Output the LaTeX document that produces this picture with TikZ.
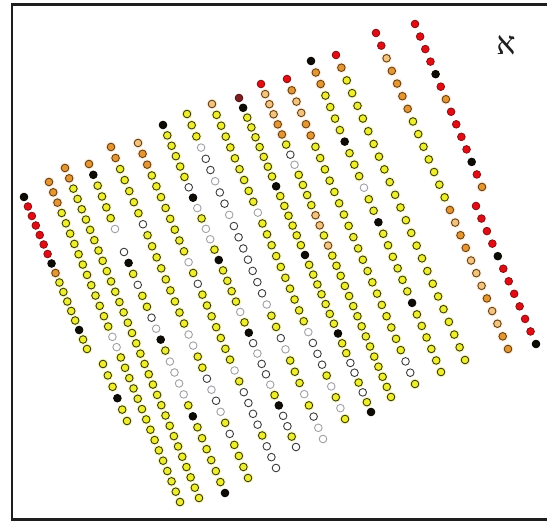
\documentclass[tikz,border=0pt]{standalone}
\usepackage{fontspec}
\TeXXeTstate=1
\newfontfamily\hebfont[Script=Hebrew]{Liberation Serif}
\usetikzlibrary{calc}
\definecolor{fR}{RGB}{226,12,20}\definecolor{lR}{RGB}{140,20,20}\definecolor{hR}{RGB}{255,255,255}
\definecolor{fO}{RGB}{228,150,50}\definecolor{lO}{RGB}{105,65,20}\definecolor{hO}{RGB}{252,240,225}
\definecolor{fT}{RGB}{242,196,128}\definecolor{lT}{RGB}{100,62,20}\definecolor{hT}{RGB}{252,242,228}
\definecolor{fY}{RGB}{238,238,45}\definecolor{lY}{RGB}{60,60,18}\definecolor{hY}{RGB}{250,250,200}
\definecolor{fW}{RGB}{255,255,255}\definecolor{lW}{RGB}{60,60,60}\definecolor{hW}{RGB}{255,255,255}
\definecolor{fG}{RGB}{255,255,255}\definecolor{lG}{RGB}{160,160,166}\definecolor{hG}{RGB}{255,255,255}
\definecolor{fK}{RGB}{15,12,5}\definecolor{lK}{RGB}{10,8,4}\definecolor{hK}{RGB}{255,255,255}
\definecolor{fM}{RGB}{125,32,36}\definecolor{lM}{RGB}{90,20,24}\definecolor{hM}{RGB}{255,255,255}
\definecolor{framecol}{RGB}{30,30,30}
\tikzset{dotbase/.style={line width=0.9pt}}
\newcommand\dotrow[3]{%
  \xdef\dcn{0}%
  \foreach \c in {#3}{\xdef\dcn{\the\numexpr\dcn+1\relax}}%
  \foreach \c [count=\i from 0] in {#3}{%
    \path[fill=h\c] ($(#1)!{\i/(\dcn-1)}!(#2)$) circle[radius=5.6pt];
  }%
  \foreach \c [count=\i from 0] in {#3}{%
    \path[dotbase,fill=f\c,draw=l\c] ($(#1)!{\i/(\dcn-1)}!(#2)$) circle[radius=3.8pt];
  }%
}
\begin{document}
\begin{tikzpicture}[x=1pt,y=-1pt]
\useasboundingbox (0,0) rectangle (547,521);
\fill[white] (0,0) rectangle (547,521);
\draw[line width=2.4pt,framecol] (552,4.5) -- (12,4.5) -- (12,519.5) -- (552,519.5);
\node[text=framecol,inner sep=0pt] (alef) at (506,45) {\hebfont\fontsize{32}{35}\selectfont\beginR א\endR};
% columns
\dotrow{24,197}{87,349}{K,R,R,R,R,R,R,K,O,Y,Y,Y,Y,Y,K,Y,Y}
\dotrow{103,364}{127,421}{Y,Y,Y,K,Y,Y}
\dotrow{49,182}{180,502}{O,O,O,Y,Y,Y,Y,Y,Y,Y,Y,Y,Y,Y,Y,G,G,Y,Y,Y,Y,Y,Y,Y,Y,Y,Y,Y,Y,Y,Y,Y}
\dotrow{65,168}{199,498}{O,O,Y,Y,Y,Y,Y,Y,Y,Y,Y,Y,Y,Y,Y,Y,Y,Y,Y,Y,Y,Y,Y,Y,Y,Y,Y,Y,Y,Y,Y,Y,Y}
\dotrow{89,164}{115,229}{O,K,Y,Y,Y,Y,G}
\dotrow{124,252}{225,493}{W,K,Y,W,Y,Y,W,G,K,Y,G,G,G,G,Y,K,Y,Y,Y,Y,Y,Y,K}
\dotrow{111,147}{248,478}{O,O,Y,Y,Y,Y,Y,W,Y,Y,Y,Y,Y,Y,Y,Y,Y,G,G,Y,Y,W,G,W,G,Y,W,Y,Y,Y,Y}
\dotrow{138,143}{276,468}{T,O,O,Y,Y,Y,Y,Y,Y,Y,Y,G,Y,W,Y,Y,Y,Y,Y,Y,Y,G,Y,W,W,W,W,Y,W,W,W}
\dotrow{163,125}{296,447}{K,Y,Y,Y,Y,Y,W,K,G,Y,G,G,Y,K,Y,Y,Y,Y,G,Y,K,W,G,W,W,G,Y,K,W,W,Y,W}
\dotrow{187,114}{323,439}{Y,Y,Y,G,W,W,G,W,W,G,W,W,W,W,W,W,W,G,Y,Y,W,G,Y,Y,Y,G,Y,W,G,G}
\dotrow{212,104}{345,419}{T,Y,Y,Y,Y,Y,Y,Y,Y,Y,G,Y,Y,Y,Y,Y,Y,Y,Y,Y,Y,G,W,W,W,Y,G,Y,G,Y}
\dotrow{239,98}{371,412}{M,K,Y,Y,Y,Y,Y,Y,Y,K,Y,Y,Y,Y,Y,Y,K,Y,Y,Y,Y,Y,Y,Y,K,Y,Y,W,W,Y,W,Y,K}
\dotrow{261,84}{391,397}{R,T,T,T,O,O,Y,W,G,Y,Y,Y,Y,T,T,Y,T,Y,Y,Y,Y,Y,Y,Y,Y,Y,Y,Y,Y,Y,Y,Y}
\dotrow{287,79}{415,384}{R,O,T,T,O,O,Y,Y,Y,Y,Y,Y,Y,Y,Y,Y,Y,Y,Y,Y,Y,Y,Y,Y,Y,W,W,Y}
\dotrow{311,61}{441,372}{K,O,O,Y,Y,Y,Y,K,Y,Y,Y,G,Y,Y,K,Y,Y,Y,Y,Y,Y,K,Y,Y,Y,Y,Y,Y}
\dotrow{336,55}{465,360}{R,O,Y,Y,Y,Y,Y,Y,Y,Y,Y,Y,Y,Y,Y,Y,Y,Y,Y,Y,Y,Y,Y,Y,Y}
\dotrow{376,33}{508,349}{R,R,T,O,O,O,O,Y,Y,Y,Y,Y,Y,Y,O,T,O,O,T,T,T,O,T,T,O,O}
\dotrow{415,24}{482,187}{R,R,R,R,K,R,O,R,R,R,R,K,R,O}
\dotrow{476,206}{536,344}{R,R,R,R,K,R,R,R,R,R,R,K}
\end{tikzpicture}
\end{document}
